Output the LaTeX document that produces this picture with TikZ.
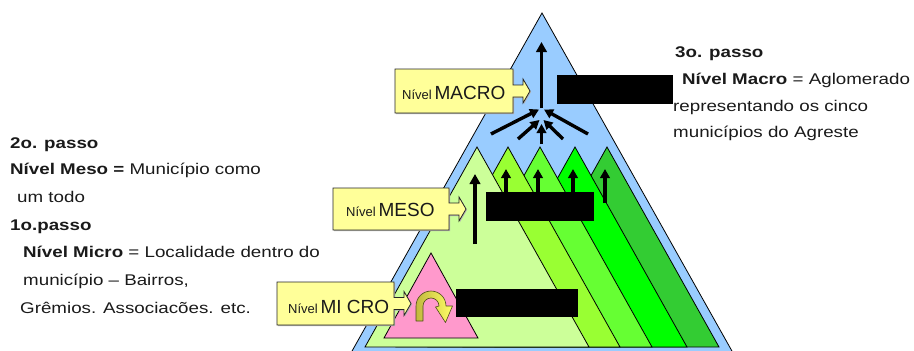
\documentclass[tikz,border=0pt]{standalone}
\usepackage{fontspec}
\setmainfont{Liberation Sans}
\newfontfamily\sidefont{Liberation Sans}[FakeStretch=1.21]
\usetikzlibrary{arrows.meta}

\definecolor{macroblue}{HTML}{99CCFF}
\definecolor{gA}{HTML}{CCFF99}
\definecolor{gB}{HTML}{99FF33}
\definecolor{gC}{HTML}{66FF33}
\definecolor{gD}{HTML}{00FF00}
\definecolor{gE}{HTML}{33CC33}
\definecolor{micropink}{HTML}{FF99CC}
\definecolor{labelyellow}{HTML}{FFFF99}
\definecolor{inkgray}{HTML}{1A1A1A}
\definecolor{olive}{HTML}{C2B83E}
\definecolor{lemon}{HTML}{FFFF66}

% level tag: rectangle x1,y1 -- x2,y2 with a block arrow on its right side
\newcommand{\leveltag}[4]{%
  \pgfmathsetmacro{\tagcy}{(#2+#4)/2}%
  \draw[tagshadow] (#1,#2) -- (#3,#2) -- (#3,\tagcy-6) -- (#3+10,\tagcy-6)
    -- (#3+10,\tagcy-12) -- (#3+17,\tagcy) -- (#3+10,\tagcy+12)
    -- (#3+10,\tagcy+6) -- (#3,\tagcy+6) -- (#3,#4) -- (#1,#4) -- cycle;
  \draw[tagbox] (#1,#2) -- (#3,#2) -- (#3,\tagcy-6) -- (#3+10,\tagcy-6)
    -- (#3+10,\tagcy-12) -- (#3+17,\tagcy) -- (#3+10,\tagcy+12)
    -- (#3+10,\tagcy+6) -- (#3,\tagcy+6) -- (#3,#4) -- (#1,#4) -- cycle;}

% one green municipality triangle with apex x
\newcommand{\mesotri}[2]{%
  \draw[fill=#2, line width=0.8pt] (#1,147) -- (#1+112,347) -- (#1-112,347) -- cycle;}

\begin{document}
\begin{tikzpicture}[x=1pt, y=-1pt,
  sidetext/.style={anchor=base west, inner sep=0pt, text=inkgray,
    font=\sidefont\fontsize{15.5}{15.5}\selectfont},
  tagtext/.style={anchor=base west, inner sep=0pt, text=inkgray},
  tagbox/.style={fill=labelyellow, draw=black!85, line width=0.8pt, line join=miter},
  tagshadow/.style={fill=black!30, draw=none, shift={(1,1)}},
  bigarrow/.style={line width=3.4pt, -{Triangle[length=10pt,width=10.5pt]}},
  smallarrow/.style={line width=3.4pt, -{Triangle[length=9pt,width=9.5pt]}},
  hidden/.style={fill=black, draw=none}]

\useasboundingbox (0,0) rectangle (914,351);
\begin{scope}
\clip (0,0) rectangle (914,351);

% macro level: the whole agglomerate
\draw[fill=macroblue, line width=0.8pt] (542,13) -- (737,360) -- (347,360) -- cycle;

% meso level: five municipalities, drawn back to front
\mesotri{607}{gE}
\mesotri{575}{gD}
\mesotri{540}{gC}
\mesotri{508}{gB}
\mesotri{477}{gA}

% micro level
\draw[fill=micropink, line width=0.8pt] (431,253) -- (478,338) -- (384,338) -- cycle;
\end{scope}

% curved arrow inside the micro level
\shadedraw[left color=olive, right color=lemon, draw=black!60!olive, line width=0.6pt, line join=round]
  (416,321) -- (416,306) arc (180:360:15) -- (452.5,306) -- (445.5,322.5)
  -- (435.5,307) -- (439,306) arc (360:180:8) -- (423,321) -- cycle;

% arrows converging to the macro level
\coordinate (hub) at (541.5,108);
\coordinate (top) at (541.5,42);
\coordinate (outL) at (491,134);
\coordinate (outR) at (588,134);
\coordinate (inL) at (518,139);
\coordinate (inR) at (563,139);
\coordinate (inM) at (541.5,144);
\draw[bigarrow] (hub) -- (top);
\draw[smallarrow] (outL) -- (539,109.5);
\draw[smallarrow] (outR) -- (544,109.5);
\draw[smallarrow] (inL) -- (539.5,120);
\draw[smallarrow] (inR) -- (543.5,120);
\draw[smallarrow] (inM) -- (541.5,124);

% arrows rising from the meso level
\coordinate (mA) at (475,244);
\coordinate (mAt) at (475,174);
\draw[bigarrow] (mA) -- (mAt);
\foreach \mx/\my in {506/200, 538/200, 573/200, 605/203}
  \draw[smallarrow] (\mx,\my) -- (\mx,169);

% covered labels
\fill[hidden] (557,75) rectangle (673,104);
\fill[hidden] (486,192) rectangle (594,221);
\fill[hidden] (456,289) rectangle (578,317);

% level tags
\leveltag{395}{69}{513}{113}
\leveltag{333}{188}{449}{230}
\leveltag{277}{282}{394}{325}
\node[tagtext] (tagmacro) at (402,99)
  {{\fontsize{13}{13}\selectfont Nível} {\fontsize{19}{19}\selectfont MACRO}};
\node[tagtext] (tagmeso) at (346,216)
  {{\fontsize{13}{13}\selectfont Nível} {\fontsize{19}{19}\selectfont MESO}};
\node[tagtext] (tagmicro) at (288,313)
  {{\fontsize{13}{13}\selectfont Nível} {\fontsize{19}{19}\selectfont MI CRO}};

% explanatory text, left
\node[sidetext] (s2) at (10,148) {\textbf{2o. passo}};
\node[sidetext] (s2a) at (10,174) {\textbf{Nível Meso =} Município como};
\node[sidetext] (s2b) at (17,202) {um todo};
\node[sidetext] (s1) at (10,230) {\textbf{1o.passo}};
\node[sidetext] (s1a) at (23,257.5) {\textbf{Nível Micro} = Localidade dentro do};
\node[sidetext] (s1b) at (23,285.5) {município – Bairros,};
\node[sidetext] (s1c) at (20,313) {Grêmios. Associacões. etc.};

% explanatory text, right
\node[sidetext] (s3) at (675,57.5) {\textbf{3o. passo}};
\node[sidetext] (s3a) at (682,84) {\textbf{Nível Macro} = Aglomerado};
\node[sidetext] (s3b) at (673,111) {representando os cinco};
\node[sidetext] (s3c) at (673,137) {municípios do Agreste};
\end{tikzpicture}
\end{document}
